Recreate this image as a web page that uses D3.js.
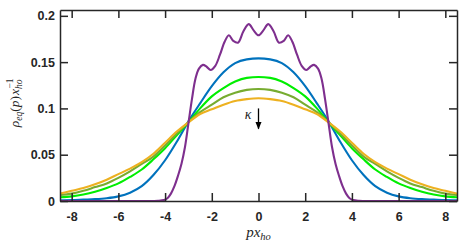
<!DOCTYPE html>
<html>
<head>
<meta charset="utf-8">
<script src="https://cdn.jsdelivr.net/npm/d3@7"></script>
<style>
    body { margin: 0; background: #fff; }
    .tick text { font-family: "Liberation Sans", Arial, sans-serif; font-weight: bold; font-size: 12.5px; fill: #262626; }
    .tex { font-family: "Liberation Serif", "Times New Roman", serif; font-style: italic; fill: #262626; }
</style>
</head>
<body>
<svg id="chart"></svg>
<script>
// x grid for the four smooth curves
const xGrid = [-8.5, -8, -7.5, -7, -6.5, -6, -5.5, -5, -4.5, -4, -3.5, -3, -2.5, -2, -1.5, -1, -0.5,
    0, 0.5, 1, 1.5, 2, 2.5, 3, 3.5, 4, 4.5, 5, 5.5, 6, 6.5, 7, 7.5, 8, 8.5];

const blueVals = [0.0008, 0.001, 0.0015, 0.002, 0.003, 0.005, 0.009, 0.016, 0.028, 0.044, 0.064, 0.086, 0.1055, 0.124, 0.139, 0.149, 0.153,
    0.154, 0.153, 0.149, 0.139, 0.124, 0.1055, 0.086, 0.064, 0.044, 0.028, 0.016, 0.009, 0.005, 0.003, 0.002, 0.0015, 0.001, 0.0008];
const greenVals = [0.004, 0.005, 0.007, 0.010, 0.014, 0.019, 0.026, 0.034, 0.045, 0.057, 0.071, 0.085, 0.100, 0.113, 0.122, 0.129, 0.133,
    0.134, 0.133, 0.129, 0.122, 0.113, 0.100, 0.085, 0.071, 0.057, 0.045, 0.034, 0.026, 0.019, 0.014, 0.010, 0.007, 0.005, 0.004];
const oliveVals = [0.0065, 0.008, 0.011, 0.015, 0.019, 0.025, 0.032, 0.040, 0.048, 0.060, 0.073, 0.085, 0.096, 0.104, 0.112, 0.117, 0.120,
    0.121, 0.120, 0.117, 0.112, 0.104, 0.096, 0.085, 0.073, 0.060, 0.048, 0.040, 0.032, 0.025, 0.019, 0.015, 0.011, 0.008, 0.0065];
const orangeVals = [0.008, 0.011, 0.014, 0.018, 0.023, 0.029, 0.035, 0.042, 0.051, 0.063, 0.075, 0.085, 0.094, 0.099, 0.104, 0.108, 0.110,
    0.111, 0.110, 0.108, 0.104, 0.099, 0.094, 0.085, 0.075, 0.063, 0.051, 0.042, 0.035, 0.029, 0.023, 0.018, 0.014, 0.011, 0.008];

// the oscillating curve has its own x points
const purpleX = [-8.5, -7, -6, -5, -4.3, -4.05, -3.9, -3.75, -3.6, -3.45, -3.3, -3.15, -3.0, -2.85, -2.7, -2.55, -2.38, -2.22, -2.05,
    -1.85, -1.65, -1.45, -1.27, -1.08, -0.88, -0.65, -0.42, -0.2, 0, 0.2, 0.42, 0.65, 0.88, 1.08, 1.27, 1.45, 1.65, 1.85,
    2.05, 2.22, 2.38, 2.55, 2.7, 2.85, 3.0, 3.15, 3.3, 3.45, 3.6, 3.75, 3.9, 4.05, 4.3, 5, 6, 7, 8.5];
const purpleVals = [0, 0, 0, 0, 0.0002, 0.001, 0.003, 0.008, 0.016, 0.027, 0.040, 0.058, 0.084, 0.110, 0.132, 0.143, 0.147, 0.145, 0.1415,
    0.146, 0.158, 0.172, 0.179, 0.173, 0.171, 0.183, 0.191, 0.184, 0.179, 0.184, 0.191, 0.183, 0.171, 0.173, 0.179, 0.172, 0.158, 0.146,
    0.1415, 0.145, 0.147, 0.143, 0.132, 0.110, 0.084, 0.058, 0.040, 0.027, 0.016, 0.008, 0.003, 0.001, 0.0002, 0, 0, 0, 0];

const xTicks = [-8, -6, -4, -2, 0, 2, 4, 6, 8];
const yTicks = [0, 0.05, 0.1, 0.15, 0.2];
const yTickLabels = ['0', '0.05', '0.1', '0.15', '0.2'];

// kappa arrow (data coords)
const arrowX = 0;
const arrowFrom = 0.1;
const arrowTo = 0.078;

const config = {
    width: 463,
    height: 245,
    margin: {top: 10, right: 6, bottom: 44, left: 60}
};

const svg = d3.select('#chart')
    .attr('width', config.width)
    .attr('height', config.height);

const innerW = config.width - config.margin.left - config.margin.right;
const innerH = config.height - config.margin.top - config.margin.bottom;

const chart = svg.append('g')
    .attr('transform', `translate(${config.margin.left},${config.margin.top})`);

const xScale = d3.scaleLinear().domain([-8.5, 8.5]).range([0, innerW]);
const yScale = d3.scaleLinear().domain([0, 0.2063]).range([innerH, 0]);

chart.append('clipPath').attr('id', 'clip')
    .append('rect').attr('width', innerW).attr('height', innerH);

// series, back to front
const series = [
    {x: xGrid, y: blueVals, color: '#0072BD', curve: d3.curveMonotoneX},
    {x: xGrid, y: greenVals, color: '#00EE00', curve: d3.curveMonotoneX},
    {x: xGrid, y: oliveVals, color: '#77AC30', curve: d3.curveMonotoneX},
    {x: xGrid, y: orangeVals, color: '#EDB120', curve: d3.curveMonotoneX},
    {x: purpleX, y: purpleVals, color: '#7E2F8E', curve: d3.curveCatmullRom.alpha(0.5)}
];

const lines = chart.append('g').attr('clip-path', 'url(#clip)');
series.forEach(s => {
    const pts = s.x.map((xv, i) => [xv, s.y[i]]);
    const line = d3.line()
        .x(d => xScale(d[0]))
        .y(d => yScale(d[1]))
        .curve(s.curve);
    lines.append('path')
        .datum(pts)
        .attr('d', line)
        .attr('fill', 'none')
        .attr('stroke', s.color)
        .attr('stroke-width', 2.1);
});

// axes, MATLAB-style box with inward ticks
const tickLen = 8;
function styleAxis(g) {
    g.selectAll('.domain').attr('stroke', '#262626').attr('stroke-width', 1.5);
    g.selectAll('.tick line').attr('stroke', '#262626').attr('stroke-width', 1.5);
}

chart.append('g')
    .attr('transform', `translate(0,${innerH})`)
    .call(d3.axisBottom(xScale).tickValues(xTicks).tickSizeInner(-tickLen).tickSizeOuter(0).tickPadding(11)
        .tickFormat(d3.format('d')))
    .call(styleAxis)
    .call(g => g.selectAll('.tick text').text(d => d < 0 ? '-' + Math.abs(d) : d));

chart.append('g')
    .call(d3.axisTop(xScale).tickValues(xTicks).tickSizeInner(-tickLen).tickSizeOuter(0).tickFormat(''))
    .call(styleAxis);

chart.append('g')
    .call(d3.axisLeft(yScale).tickValues(yTicks).tickSizeInner(-tickLen).tickSizeOuter(0).tickPadding(5)
        .tickFormat((d, i) => yTickLabels[i]))
    .call(styleAxis);

chart.append('g')
    .attr('transform', `translate(${innerW},0)`)
    .call(d3.axisRight(yScale).tickValues(yTicks).tickSizeInner(-tickLen).tickSizeOuter(0).tickFormat(''))
    .call(styleAxis);

// x label: p x_ho
const xLabel = chart.append('text')
    .attr('class', 'tex')
    .attr('x', xScale(0))
    .attr('y', innerH + 36)
    .attr('text-anchor', 'middle')
    .style('font-size', '15px');
xLabel.append('tspan').text('px');
xLabel.append('tspan').attr('dy', 3).style('font-size', '10.5px').text('ho');

// y label: rho_eq(p) x_ho^-1
const yLabel = svg.append('text')
    .attr('class', 'tex')
    .attr('transform', `translate(19,${config.margin.top + yScale(0.106)}) rotate(-90)`)
    .attr('text-anchor', 'middle')
    .style('font-size', '13.5px');
yLabel.append('tspan').text('ρ');
yLabel.append('tspan').attr('dy', 3).style('font-size', '9.5px').text('eq');
yLabel.append('tspan').attr('dy', -3).style('font-style', 'normal').text('(');
yLabel.append('tspan').text('p');
yLabel.append('tspan').style('font-style', 'normal').text(')');
yLabel.append('tspan').attr('dx', 1).text('x');
yLabel.append('tspan').attr('dy', 3).style('font-size', '9.5px').text('ho');
yLabel.append('tspan').attr('dx', -9).attr('dy', -9).style('font-size', '9.5px').style('font-style', 'normal').text('−1');

// kappa arrow
const defs = svg.append('defs');
defs.append('marker')
    .attr('id', 'arrowhead')
    .attr('viewBox', '0 0 10 10')
    .attr('refX', 9).attr('refY', 5)
    .attr('markerWidth', 6).attr('markerHeight', 6)
    .attr('orient', 'auto')
    .append('path')
    .attr('d', 'M0,1 L10,5 L0,9 z')
    .attr('fill', '#000');

chart.append('line')
    .attr('x1', xScale(arrowX)).attr('x2', xScale(arrowX))
    .attr('y1', yScale(arrowFrom)).attr('y2', yScale(arrowTo))
    .attr('stroke', '#000')
    .attr('stroke-width', 1.3)
    .attr('marker-end', 'url(#arrowhead)');

chart.append('text')
    .attr('class', 'tex')
    .attr('x', xScale(arrowX) - 7)
    .attr('y', yScale(0.089))
    .attr('text-anchor', 'end')
    .style('font-size', '14px')
    .text('κ');
</script>
</body>
</html>
